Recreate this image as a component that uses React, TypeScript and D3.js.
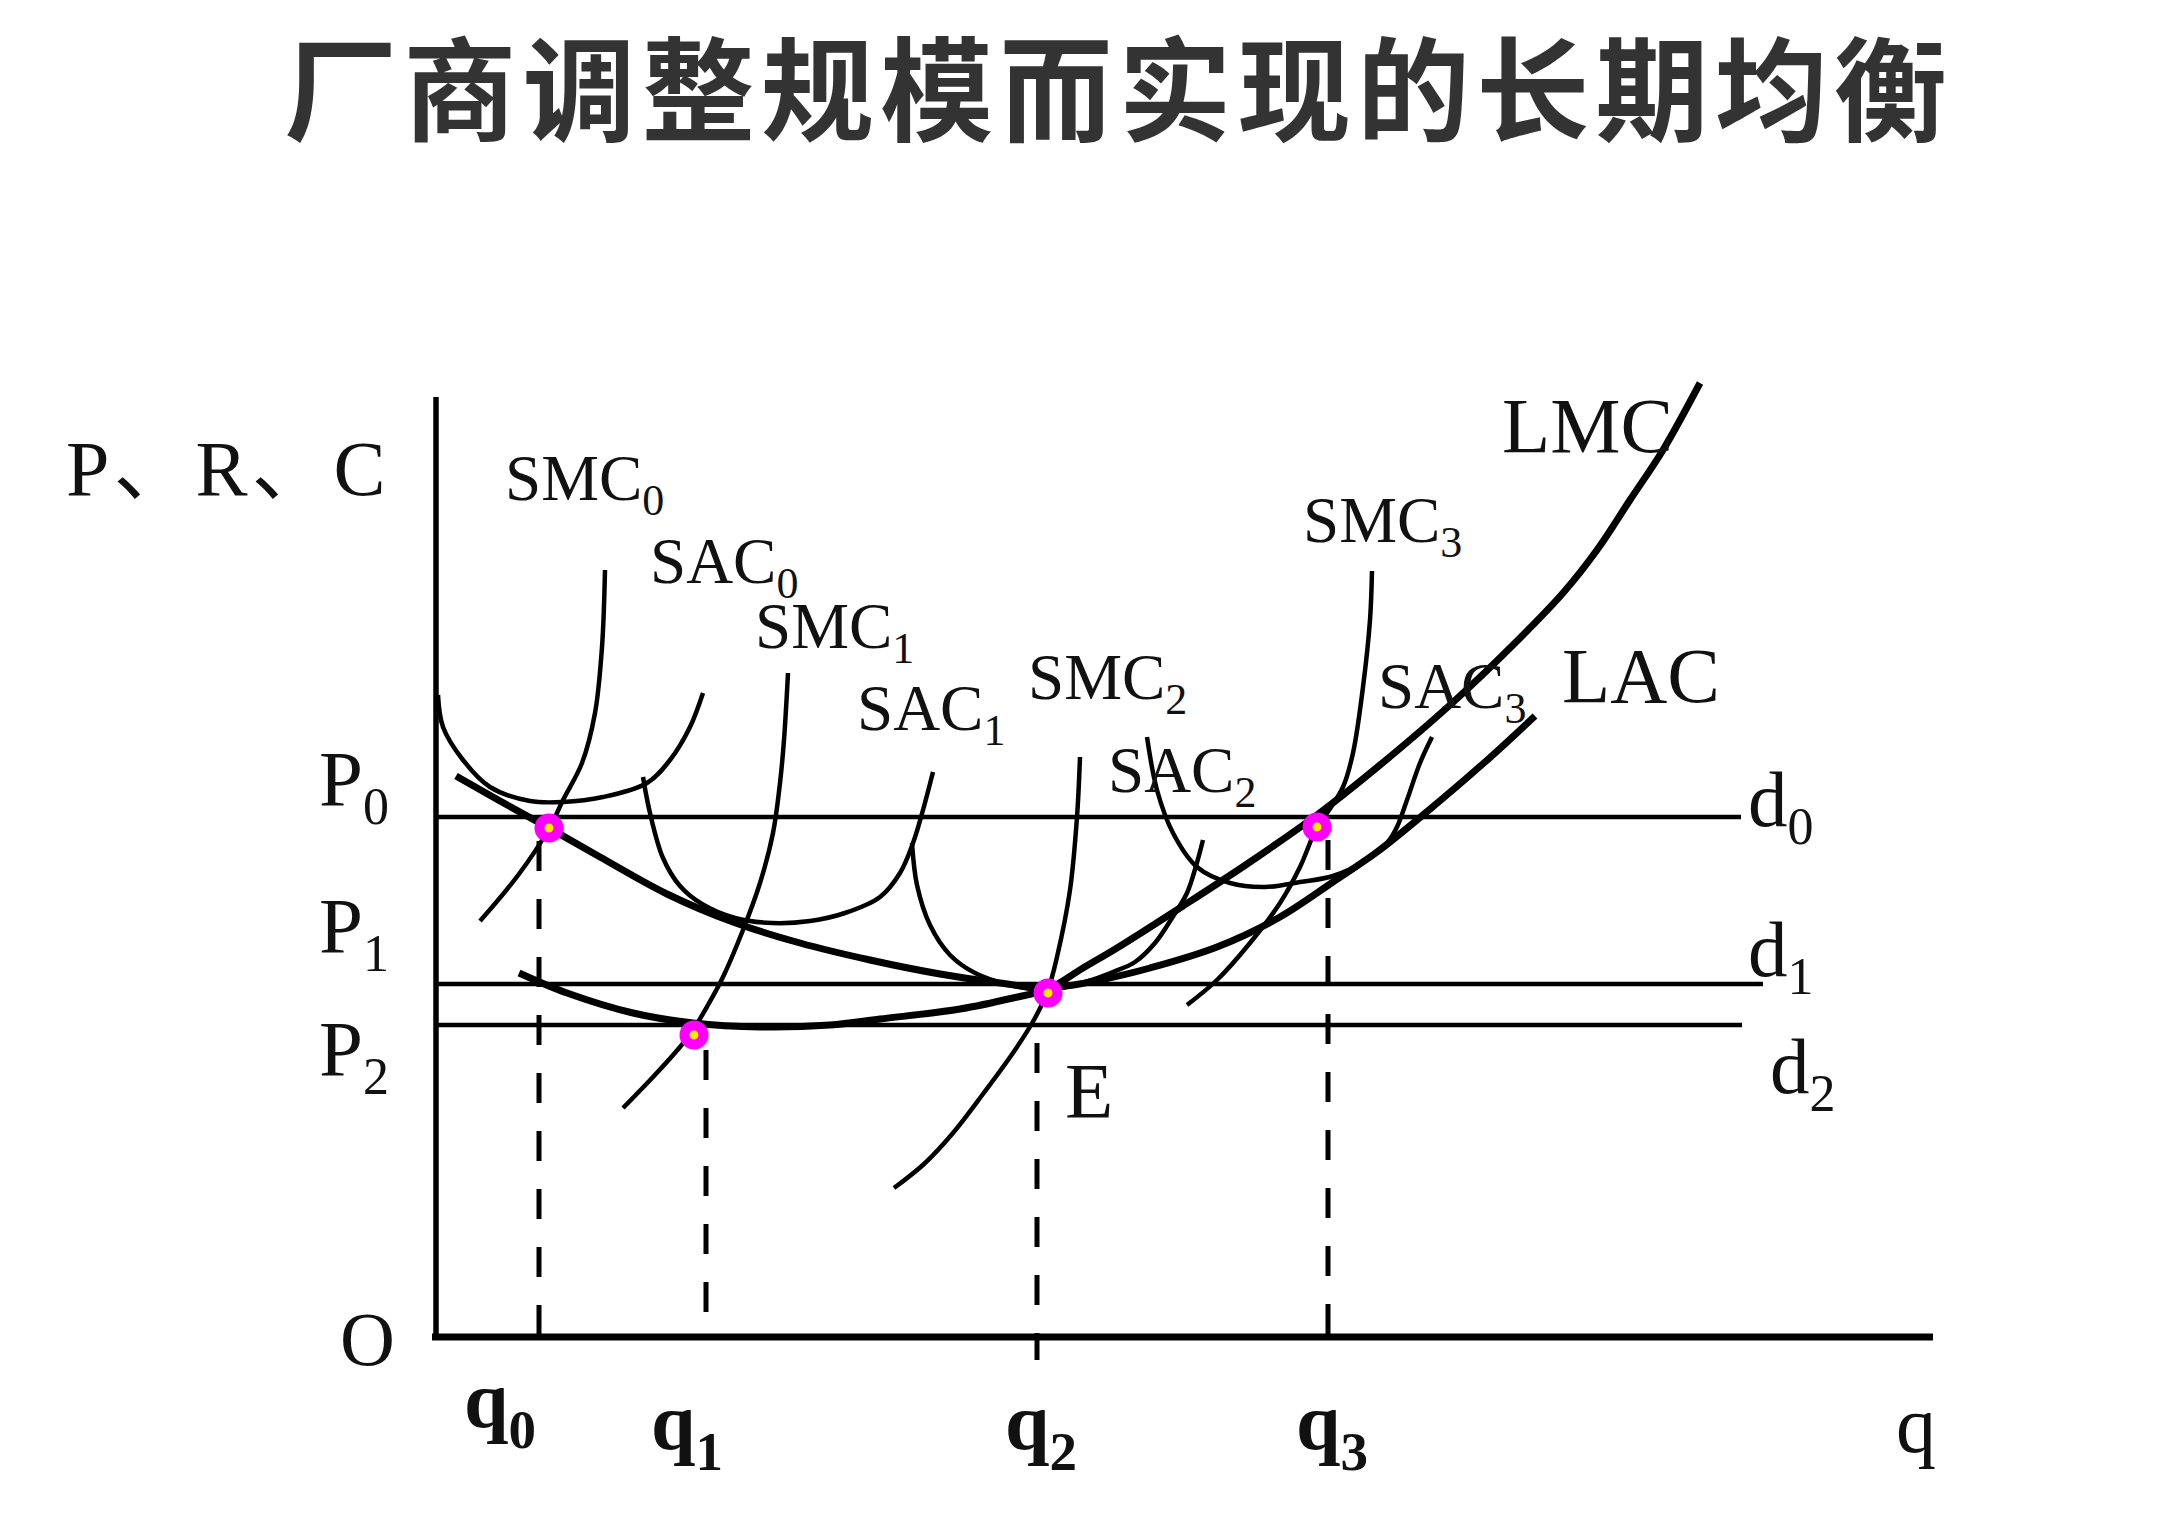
import React from 'react';
import * as d3 from 'd3';

const W = 2173;
const H = 1522;

// ---------- data (chart units: quantity q, price/cost p) ----------
const TITLE = '厂商调整规模而实现的长期均衡';

// price levels P0, P1, P2 and the demand lines d0, d1, d2
const P_LEVELS = [52.0, 35.3, 31.2];
const D_LINE_END = [130.5, 132.7, 130.6];
const P_NAMES = ['0', '1', '2'];

// quantities q0..q3 with the extent of their dashed guide lines
const Q_VALUES = [10.3, 27.0, 60.1, 89.2];
const Q_DASH_TOP = [49.6, 28.7, 29.4, 49.7];
const Q_DASH_BOTTOM = [0, 2.5, -2.3, 0];

// long-run curves
const LAC: [number, number][] = [
  [2.0, 56.1], [6.4, 53.6], [11.3, 50.9], [16.4, 48.0], [23.1, 44.3], [29.7, 41.5],
  [36.4, 39.4], [43.4, 37.7], [50.4, 36.3], [56.4, 35.4], [61.2, 34.9], [66.4, 35.7],
  [71.4, 36.9], [78.1, 39.0], [84.4, 42.0], [89.7, 45.5], [94.1, 48.5], [98.7, 52.2],
  [104.9, 57.5], [109.9, 62.1],
];
const LMC: [number, number][] = [
  [8.3, 36.4], [13.1, 34.4], [19.7, 32.4], [25.7, 31.4], [32.4, 31.0], [39.4, 31.2],
  [44.4, 31.8], [52.4, 32.8], [57.7, 33.9], [61.2, 34.8], [64.7, 36.9], [68.1, 38.9],
  [74.7, 43.1], [81.4, 47.5], [88.1, 52.2], [94.4, 57.2], [101.4, 63.2], [107.7, 69.2],
  [112.7, 74.4], [116.1, 78.7], [119.4, 83.7], [122.7, 88.7], [126.4, 95.4],
];

// short-run curves
const SAC0: [number, number][] = [
  [0.2, 64.2], [0.7, 61.0], [2.7, 57.7], [5.4, 55.0], [9.4, 53.6], [12.7, 53.5],
  [16.7, 54.0], [21.1, 55.4], [23.4, 57.7], [25.4, 61.0], [26.7, 64.4],
];
const SMC0: [number, number][] = [
  [4.4, 41.6], [8.3, 46.3], [11.4, 51.0], [12.7, 53.7], [14.6, 57.4], [15.9, 62.4],
  [16.6, 69.0], [16.9, 76.7],
];
const SAC1: [number, number][] = [
  [20.7, 56.0], [21.4, 52.4], [22.7, 47.9], [24.4, 45.1], [26.6, 43.3], [29.9, 41.9],
  [33.6, 41.4], [37.4, 41.6], [40.9, 42.4], [44.4, 44.0], [46.4, 46.4], [47.7, 49.4],
  [48.7, 52.7], [49.7, 56.5],
];
const SMC1: [number, number][] = [
  [18.7, 22.9], [21.7, 26.0], [24.4, 29.0], [25.7, 30.7], [27.2, 33.2], [28.7, 36.0],
  [30.7, 40.7], [32.4, 45.4], [33.7, 50.4], [34.4, 55.4], [34.8, 59.7], [35.2, 66.4],
];
const SAC2: [number, number][] = [
  [47.6, 49.4], [48.1, 45.2], [49.4, 41.2], [51.4, 38.2], [53.9, 36.4], [57.4, 35.2],
  [61.2, 34.7], [64.9, 35.5], [67.7, 36.5], [69.9, 37.5], [71.9, 39.4], [73.6, 41.9],
  [75.1, 44.4], [76.0, 47.1], [76.7, 49.7],
];
const SMC2: [number, number][] = [
  [45.8, 14.9], [48.8, 17.3], [51.7, 20.4], [54.7, 24.3], [57.9, 28.7], [59.9, 31.9],
  [61.2, 34.7], [62.1, 38.0], [63.4, 44.7], [64.1, 52.0], [64.4, 58.0],
];
const SAC3: [number, number][] = [
  [71.1, 60.0], [72.1, 54.7], [73.7, 50.4], [76.1, 47.0], [79.4, 45.4], [82.9, 45.0],
  [86.4, 45.5], [89.7, 46.1], [93.1, 47.7], [95.1, 49.4], [96.1, 51.0], [97.1, 53.7],
  [98.4, 57.4], [99.6, 60.0],
];
const SMC3: [number, number][] = [
  [75.1, 33.2], [78.1, 35.7], [81.4, 39.4], [84.4, 43.4], [86.4, 47.0], [88.1, 51.0],
  [89.1, 52.4], [90.7, 55.0], [91.7, 58.4], [92.7, 65.0], [93.4, 71.7], [93.6, 76.6],
];

// marked equilibrium points
const EQ_POINTS: [number, number][] = [
  [11.3, 50.9], [25.8, 30.2], [61.2, 34.4], [88.1, 51.0],
];

// ---------- scales ----------
const x = d3.scaleLinear().domain([0, 150]).range([436, 1936]);
const y = d3.scaleLinear().domain([0, 94]).range([1337, 397]);
const X_MAX = 149.7;
const Y_MAX = 94;

const line = d3
  .line<[number, number]>()
  .x((d) => x(d[0]))
  .y((d) => y(d[1]))
  .curve(d3.curveCatmullRom.alpha(0.5));

const SERIF = "'Liberation Serif', 'Times New Roman', 'Noto Sans CJK SC', serif";

type LabelProps = {
  lx: number;
  ly: number;
  main: string;
  sub?: string;
  size: number;
  subSize?: number;
  dy?: number;
  bold?: boolean;
};

function Label({ lx, ly, main, sub, size, subSize, dy, bold }: LabelProps) {
  return (
    <text
      x={lx}
      y={ly}
      fontFamily={SERIF}
      fontSize={size}
      fontWeight={bold ? 700 : 400}
      fill="#111"
    >
      {main}
      {sub !== undefined && (
        <tspan fontSize={subSize} dy={dy}>
          {sub}
        </tspan>
      )}
    </text>
  );
}

export default function App() {
  const shortCurves = [SAC0, SMC0, SAC1, SMC1, SAC2, SMC2, SAC3, SMC3];
  const longCurves = [LAC, LMC];

  // label layout (pixel anchors for text)
  const smallLabels = [
    { t: 'SMC', s: '0', lx: 505, ly: 500 },
    { t: 'SAC', s: '0', lx: 650, ly: 583 },
    { t: 'SMC', s: '1', lx: 755, ly: 648 },
    { t: 'SAC', s: '1', lx: 857, ly: 730 },
    { t: 'SMC', s: '2', lx: 1028, ly: 699 },
    { t: 'SAC', s: '2', lx: 1108, ly: 792 },
    { t: 'SMC', s: '3', lx: 1303, ly: 542 },
    { t: 'SAC', s: '3', lx: 1378, ly: 708 },
  ];
  const pLabelY = [805, 952, 1075];
  const dLabelPos = [
    [1748, 826],
    [1748, 976],
    [1770, 1093],
  ];
  const qLabelPos = [
    [464, 1427],
    [651, 1449],
    [1005, 1449],
    [1296, 1449],
  ];

  return (
    <svg
      width={W}
      height={H}
      viewBox={`0 0 ${W} ${H}`}
      style={{ position: 'absolute', left: 0, top: 0, background: '#fff' }}
    >
      <rect x={0} y={0} width={W} height={H} fill="#fff" />

      {/* title */}
      <text
        x={284}
        y={132}
        fontFamily="'Noto Sans CJK SC', sans-serif"
        fontWeight={700}
        fontSize={113}
        fill="#333"
        textLength={1663}
        lengthAdjust="spacing"
      >
        {TITLE}
      </text>

      {/* demand / price lines */}
      {P_LEVELS.map((p, i) => (
        <line
          key={'d' + i}
          x1={x(0)}
          x2={x(D_LINE_END[i])}
          y1={y(p)}
          y2={y(p)}
          stroke="#000"
          strokeWidth={4.5}
        />
      ))}

      {/* dashed quantity guides */}
      {Q_VALUES.map((q, i) => (
        <line
          key={'q' + i}
          x1={x(q)}
          x2={x(q)}
          y1={y(Q_DASH_TOP[i])}
          y2={y(Q_DASH_BOTTOM[i])}
          stroke="#000"
          strokeWidth={5}
          strokeDasharray="30 28"
        />
      ))}

      {/* short-run curves */}
      {shortCurves.map((c, i) => (
        <path
          key={'s' + i}
          d={line(c) || ''}
          fill="none"
          stroke="#000"
          strokeWidth={4.5}
          strokeLinecap="butt"
        />
      ))}

      {/* long-run curves */}
      {longCurves.map((c, i) => (
        <path
          key={'l' + i}
          d={line(c) || ''}
          fill="none"
          stroke="#000"
          strokeWidth={7}
          strokeLinecap="butt"
        />
      ))}

      {/* axes */}
      <line x1={x(0)} x2={x(0)} y1={y(Y_MAX)} y2={y(0) + 3} stroke="#000" strokeWidth={5.5} />
      <line x1={x(0) - 4} x2={x(X_MAX)} y1={y(0)} y2={y(0)} stroke="#000" strokeWidth={7} />

      {/* equilibrium markers */}
      {EQ_POINTS.map((d, i) => (
        <circle
          key={'pt' + i}
          cx={x(d[0])}
          cy={y(d[1])}
          r={9.5}
          fill="#ffe800"
          stroke="#ff00ff"
          strokeWidth={10}
        />
      ))}

      {/* curve labels */}
      {smallLabels.map((l, i) => (
        <Label key={'sl' + i} lx={l.lx} ly={l.ly} main={l.t} sub={l.s} size={65} subSize={44} dy={15} />
      ))}
      <Label lx={1502} ly={452} main="LMC" size={79} />
      <Label lx={1562} ly={702} main="LAC" size={79} />
      <Label lx={1065} ly={1117} main="E" size={79} />

      {/* axis labels */}
      <text x={66} y={495} fontFamily={SERIF} fontSize={78} letterSpacing={4} fill="#111">
        P、R、C
      </text>
      {P_NAMES.map((n, i) => (
        <Label key={'P' + i} lx={319} ly={pLabelY[i]} main="P" sub={n} size={79} subSize={52} dy={19} />
      ))}
      {P_NAMES.map((n, i) => (
        <Label key={'dl' + i} lx={dLabelPos[i][0]} ly={dLabelPos[i][1]} main="d" sub={n} size={79} subSize={52} dy={18} />
      ))}
      {Q_VALUES.map((_, i) => (
        <Label key={'ql' + i} lx={qLabelPos[i][0]} ly={qLabelPos[i][1]} main="q" sub={String(i)} size={80} subSize={55} dy={21} bold />
      ))}
      <Label lx={1896} ly={1452} main="q" size={80} />
      <Label lx={340} ly={1365} main="O" size={76} />
    </svg>
  );
}
